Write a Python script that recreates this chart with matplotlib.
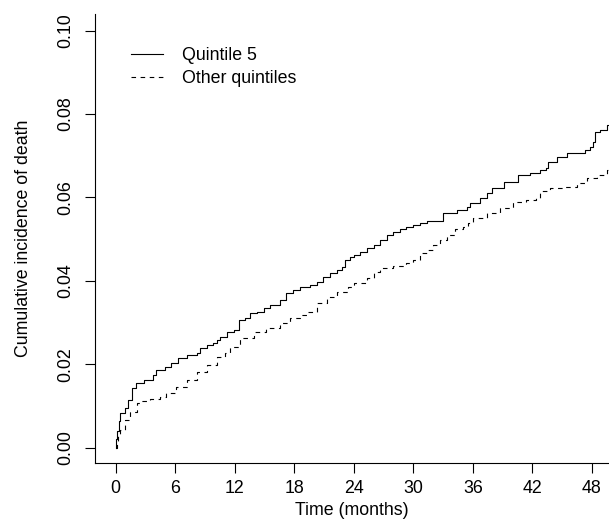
import matplotlib
matplotlib.use("Agg")
import matplotlib.pyplot as plt

plt.rcParams['font.family'] = ['Liberation Sans', 'DejaVu Sans']

# Quintile 5 (solid)
q5_time = [0, 0.05, 0.15, 0.3, 0.43, 0.94, 1.27, 1.6, 2.05, 2.8, 3.8, 4.1, 5.0, 5.6,
           6.3, 7.2, 8.2, 8.5, 9.2, 9.8, 10.2, 10.5, 11.2, 11.9, 12.4, 13.0, 13.5,
           14.2, 14.9, 15.6, 16.6, 17.2, 17.9, 18.6, 19.6, 20.3, 20.9, 21.6, 22.3,
           22.8, 23.1, 23.6, 24.0, 24.6, 25.3, 26.0, 26.6, 27.3, 28.0, 28.7, 29.3,
           30.0, 30.7, 31.4, 33.0, 34.4, 35.4, 35.7, 36.7, 37.4, 37.9, 39.1, 40.6,
           41.8, 42.8, 43.4, 43.6, 44.5, 45.5, 47.3, 47.8, 48.1, 48.3, 48.8, 49.5, 50.0]
q5_cif = [0, 0.002, 0.004, 0.0065, 0.0083, 0.0094, 0.0114, 0.0142, 0.0154, 0.0162,
          0.0174, 0.0186, 0.0194, 0.0202, 0.0214, 0.0222, 0.0226, 0.0238, 0.0246,
          0.0250, 0.0258, 0.0266, 0.0278, 0.0282, 0.0306, 0.0310, 0.0322, 0.0326,
          0.0334, 0.0342, 0.0354, 0.0370, 0.0378, 0.0385, 0.0390, 0.0398, 0.0410,
          0.0418, 0.0426, 0.0434, 0.0450, 0.0458, 0.0462, 0.0470, 0.0478, 0.0486,
          0.0498, 0.0510, 0.0518, 0.0524, 0.0530, 0.0534, 0.0540, 0.0544, 0.0562,
          0.0570, 0.0578, 0.0586, 0.0598, 0.0610, 0.0622, 0.0638, 0.0654, 0.0658,
          0.0666, 0.0670, 0.0686, 0.0698, 0.0706, 0.0714, 0.0722, 0.0734, 0.0758,
          0.0762, 0.0774, 0.0778]

# Other quintiles (dashed)
oth_time = [0, 0.1, 0.25, 0.43, 0.94, 1.44, 2.1, 2.45, 3.46, 4.5, 5.1, 6.1, 7.2, 8.2,
            9.2, 10.2, 11.0, 11.5, 12.5, 13.9, 15.2, 16.6, 17.6, 18.6, 19.4, 20.3,
            21.3, 22.3, 23.4, 24.0, 25.3, 26.0, 26.6, 28.0, 29.3, 30.0, 30.7, 31.4,
            32.0, 32.7, 33.4, 34.2, 35.0, 35.5, 36.0, 37.4, 38.7, 40.1, 41.4, 42.4,
            42.8, 43.8, 45.1, 46.5, 47.5, 48.5, 49.5, 49.8, 50.0]
oth_cif = [0, 0.0015, 0.003, 0.0042, 0.0066, 0.0086, 0.0106, 0.0112, 0.0116, 0.0122,
           0.0130, 0.0146, 0.0162, 0.0182, 0.0198, 0.0218, 0.0228, 0.0242, 0.0262,
           0.0278, 0.0286, 0.0298, 0.0310, 0.0318, 0.0326, 0.0346, 0.0362, 0.0374,
           0.0386, 0.0394, 0.0406, 0.0422, 0.0430, 0.0436, 0.0444, 0.0450, 0.0466,
           0.0474, 0.0486, 0.0498, 0.0510, 0.0524, 0.0530, 0.0538, 0.0550, 0.0562,
           0.0574, 0.0590, 0.0594, 0.0598, 0.0616, 0.0622, 0.0626, 0.0634, 0.0646,
           0.0654, 0.0666, 0.0674, 0.0676]

x_ticks = [0, 6, 12, 18, 24, 30, 36, 42, 48]
y_ticks = [0.00, 0.02, 0.04, 0.06, 0.08, 0.10]
y_tick_labels = ["0.00", "0.02", "0.04", "0.06", "0.08", "0.10"]
series_labels = ["Quintile 5", "Other quintiles"]

W, H = 609, 521
fig = plt.figure(figsize=(W / 100, H / 100), dpi=100)
ax = fig.add_axes([95 / W, 1 - 463 / H, (W - 95) / W, (463 - 14) / H])

ax.plot(q5_time, q5_cif, drawstyle='steps-post', color='black', lw=0.8,
        label=series_labels[0])
ax.plot(oth_time, oth_cif, drawstyle='steps-post', color='black', lw=0.8,
        linestyle=(0, (4.1, 4.1)), label=series_labels[1])

ax.set_xlim(-2.09, 49.73)
ax.set_ylim(-0.00367, 0.104)

for s in ['top', 'right']:
    ax.spines[s].set_visible(False)
for s in ['left', 'bottom']:
    ax.spines[s].set_linewidth(0.8)

ax.set_xticks(x_ticks)
ax.set_xticklabels([str(t) for t in x_ticks])
ax.set_yticks(y_ticks)
ax.set_yticklabels(y_tick_labels, rotation=90, va='center')
ax.tick_params(axis='both', direction='out', length=7, width=0.8, labelsize=12.8)
ax.tick_params(axis='y', pad=8)
ax.tick_params(axis='x', pad=5)

ax.set_xlabel("Time (months)", fontsize=12.8, labelpad=3.5)
ax.set_ylabel("Cumulative incidence of death", fontsize=12.8, labelpad=18)

ax.legend(loc='upper left', bbox_to_anchor=(131 / W, 1 - 47 / H),
          bbox_transform=fig.transFigure, frameon=False, fontsize=12.8,
          handlelength=1.8, handletextpad=1.05, labelspacing=0.35, borderpad=0,
          borderaxespad=0)

fig.savefig("out.png", dpi=100)
